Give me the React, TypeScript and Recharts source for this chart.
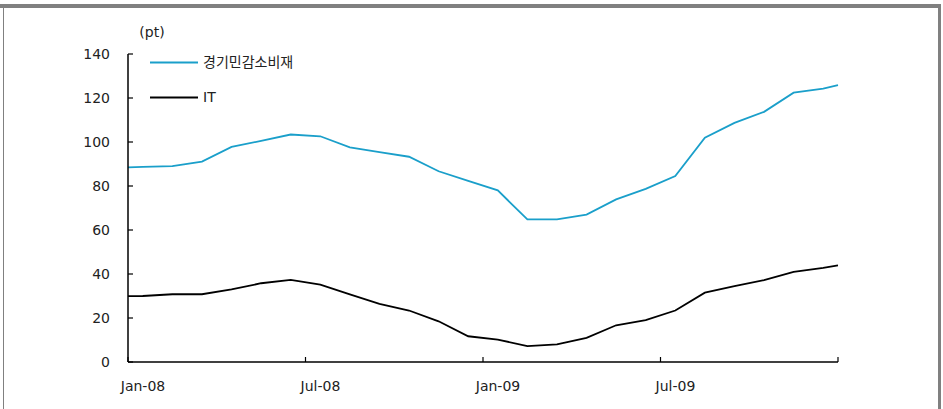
import React from "react";
import { LineChart, Line, XAxis, YAxis } from "recharts";

// x position in months from Jan-08 (month values sit mid-month; lines run to the axis edges)
const xPoints = [
  0, 0.5, 1.5, 2.5, 3.5, 4.5, 5.5, 6.5, 7.5, 8.5, 9.5, 10.5, 11.5,
  12.5, 13.5, 14.5, 15.5, 16.5, 17.5, 18.5, 19.5, 20.5, 21.5, 22.5, 23.5, 24,
];

// 경기민감소비재
const cyclical = [
  88.5, 88.7, 89.0, 91.1, 97.8, 100.5, 103.4, 102.6, 97.6, 95.4, 93.3, 86.7, 82.3,
  78.0, 64.8, 64.8, 67.0, 73.9, 78.7, 84.5, 101.9, 108.7, 113.7, 122.4, 124.3, 125.8,
];

// IT
const it = [
  29.9, 30.0, 30.8, 30.8, 33.0, 35.8, 37.3, 35.2, 30.7, 26.4, 23.4, 18.5, 11.7,
  10.2, 7.2, 8.0, 11.0, 16.7, 19.0, 23.4, 31.5, 34.5, 37.2, 41.0, 42.8, 43.9,
];

const xTicks = [0, 6, 12, 18, 24];
const xTickLabels = ["Jan-08", "Jul-08", "Jan-09", "Jul-09", ""];
const yTicks = [0, 20, 40, 60, 80, 100, 120, 140];

const data = xPoints.map((x, i) => ({ x, cyclical: cyclical[i], it: it[i] }));

const FONT = "'DejaVu Sans', 'Noto Sans CJK KR', sans-serif";
const TEXT = "#222";
const BLUE = "#1a9fca";

const YTick = ({ x, y, payload }: any) => (
  <g>
    <line x1={x} y1={y} x2={x + 5} y2={y} stroke="#000" strokeWidth={1.2} />
    <text x={x - 18} y={y} dy={5} textAnchor="end" fontSize={14} fill={TEXT} fontFamily={FONT}>
      {payload.value}
    </text>
  </g>
);

const XTick = ({ x, y, payload }: any) => {
  const idx = xTicks.indexOf(payload.value);
  return (
    <g>
      <line x1={x} y1={y} x2={x} y2={y - 5} stroke="#000" strokeWidth={1.2} />
      <text x={x + 15} y={y} dy={29} textAnchor="middle" fontSize={14} fill={TEXT} fontFamily={FONT}>
        {xTickLabels[idx]}
      </text>
    </g>
  );
};

const LegendBox = () => (
  <svg width={200} height={60} style={{ position: "absolute", left: 150, top: 52 }}>
    <line x1={0} y1={10.5} x2={48} y2={10.5} stroke={BLUE} strokeWidth={1.8} />
    <text x={53} y={10} dy={5} fontSize={14} fill={TEXT} fontFamily={FONT}>경기민감소비재</text>
    <line x1={0} y1={45.5} x2={48} y2={45.5} stroke="#000" strokeWidth={1.8} />
    <text x={53} y={45} dy={5} fontSize={14} fill={TEXT} fontFamily={FONT}>IT</text>
  </svg>
);

export default function App() {
  return (
    <div style={{ position: "absolute", left: 0, top: 0, width: 943, height: 409, background: "#fff" }}>
      <LineChart
        width={943}
        height={409}
        data={data}
        margin={{ top: 54, right: 105, bottom: 7, left: 78 }}
      >
        <XAxis
          dataKey="x"
          type="number"
          domain={[0, 24]}
          ticks={xTicks}
          height={40}
          tickSize={0}
          tickMargin={0}
          tickLine={false}
          tick={<XTick />}
          axisLine={{ stroke: "#000", strokeWidth: 1.5 }}
          interval={0}
        />
        <YAxis
          type="number"
          domain={[0, 140]}
          ticks={yTicks}
          width={50}
          tickSize={0}
          tickMargin={0}
          tickLine={false}
          tick={<YTick />}
          axisLine={{ stroke: "#000", strokeWidth: 1.5 }}
          interval={0}
          label={{
            content: ({ viewBox }: any) => (
              <text x={viewBox.x + viewBox.width + 24} y={viewBox.y - 22} dy={5} textAnchor="middle" fontSize={14} fill={TEXT} fontFamily={FONT}>
                (pt)
              </text>
            ),
          }}
        />
        <Line
          dataKey="cyclical"
          name="경기민감소비재"
          stroke={BLUE}
          strokeWidth={1.8}
          dot={false}
          type="linear"
          isAnimationActive={false}
        />
        <Line
          dataKey="it"
          name="IT"
          stroke="#000"
          strokeWidth={1.8}
          dot={false}
          type="linear"
          isAnimationActive={false}
        />
      </LineChart>
      <LegendBox />
      {/* frame */}
      <div style={{ position: "absolute", left: 0, top: 4, width: 940, height: 4, background: "#808080" }} />
      <div style={{ position: "absolute", left: 3, top: 8, width: 1, height: 401, background: "#808080" }} />
      <div style={{ position: "absolute", left: 938, top: 4, width: 3, height: 405, background: "#808080" }} />
    </div>
  );
}
